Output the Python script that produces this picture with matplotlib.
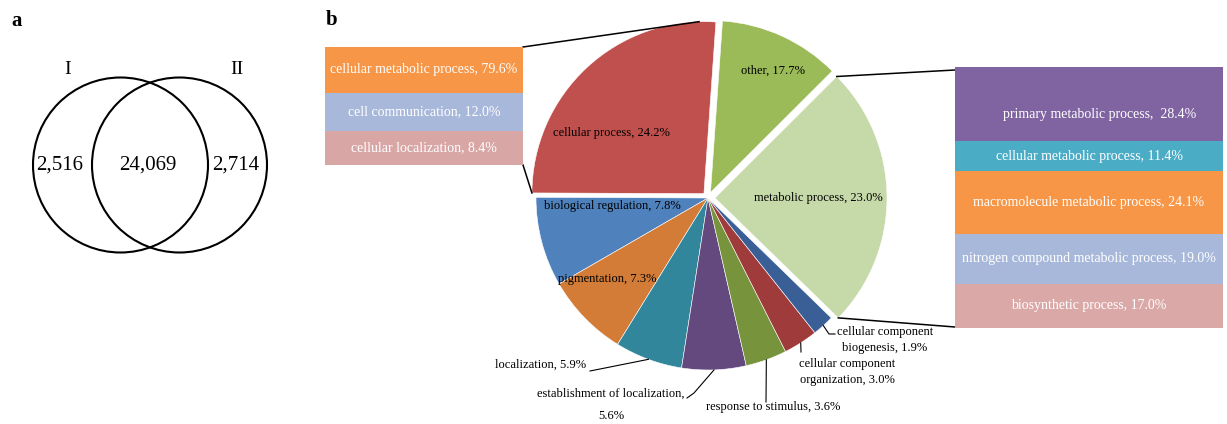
import numpy as np
import matplotlib
matplotlib.use('Agg')
import matplotlib.pyplot as plt
from matplotlib.patches import Circle

W, H = 1227, 424
plt.rcParams['font.family'] = ['Liberation Serif', 'DejaVu Serif']

# ---- data ----
venn_sets = ['I', 'II']
venn_counts = [2516, 24069, 2714]   # only I, both, only II

pie_labels = ['cellular process', 'biological regulation', 'pigmentation', 'localization',
              'establishment of localization', 'response to stimulus',
              'cellular component organization', 'cellular component biogenesis',
              'metabolic process', 'other']
pie_pct = [24.2, 7.8, 7.3, 5.9, 5.6, 3.6, 3.0, 1.9, 23.0, 17.7]
# slice sizes as drawn (the "other" slice is narrower in the figure than its label)
pie_sizes = [24.2, 7.8, 7.3, 5.9, 5.6, 3.6, 3.0, 1.9, 23.0, 10.6]
pie_colors = ['#C0504D', '#4F81BD', '#D27C38', '#31869B', '#64497F',
              '#77933C', '#A03B3B', '#3A5F96', '#C6D9A8', '#9BBB59']

cell_labels = ['cellular metabolic process', 'cell communication', 'cellular localization']
cell_pct = [79.6, 12.0, 8.4]
cell_colors = ['#F79646', '#A8B8DA', '#D9A6A6']

metab_labels = ['primary metabolic process', 'cellular metabolic process',
                'macromolecule metabolic process', 'nitrogen compound metabolic process',
                'biosynthetic process']
metab_pct = [28.4, 11.4, 24.1, 19.0, 17.0]
metab_colors = ['#8064A2', '#4BACC6', '#F79646', '#A8B8DA', '#DBA8A8']


def P(x, y):
    # image pixel (y down) -> main axes coords
    return x, H - y


fig = plt.figure(figsize=(W / 100, H / 100), dpi=100)
ax = fig.add_axes([0, 0, 1, 1])

# ---- panel a: venn ----
for cx in (120.5, 179.5):
    ax.add_patch(Circle(P(cx, 165), 87.5, fill=False, ec='black', lw=1.5))
ax.text(*P(68, 70), venn_sets[0], fontsize=14, ha='center', va='center')
ax.text(*P(237, 70), venn_sets[1], fontsize=14, ha='center', va='center')
for xpos, n in zip((60, 148, 236), venn_counts):
    ax.text(*P(xpos, 165), f'{n:,}', fontsize=15, ha='center', va='center')

ax.text(*P(17, 21), 'a', fontsize=15, fontweight='bold', ha='center', va='center')
ax.text(*P(332, 20), 'b', fontsize=15, fontweight='bold', ha='center', va='center')

# ---- panel b: pie ----
R = 172
explode = [6, 0, 0, 0, 0, 0, 0, 0, 7, 6]
wedges, _ = ax.pie(pie_sizes, colors=pie_colors, startangle=86, counterclock=True,
                   explode=explode, radius=R, center=P(708, 198),
                   wedgeprops=dict(edgecolor='white', linewidth=0.4))

txt = [f'{l}, {p:.1f}%' for l, p in zip(pie_labels, pie_pct)]
fs = 9
inside = {0: (611, 133), 1: (612, 206), 2: (607, 279), 8: (818, 198), 9: (773, 71)}
for i, (x, y) in inside.items():
    ax.text(*P(x, y), txt[i], fontsize=fs, ha='center', va='center')


def rim(i, frac=0.5, r=None):
    w = wedges[i]
    t = np.deg2rad(w.theta1 + frac * (w.theta2 - w.theta1))
    r = w.r if r is None else r
    return w.center[0] + r * np.cos(t), w.center[1] + r * np.sin(t)


def leader(pts, end):
    xs = [P(*p)[0] for p in pts] + [end[0]]
    ys = [P(*p)[1] for p in pts] + [end[1]]
    ax.plot(xs, ys, color='black', lw=0.8)


ax.text(*P(495, 365), txt[3], fontsize=fs, ha='left', va='center')
leader([(590, 371)], rim(3))
ax.text(*P(611, 405), f'{pie_labels[4]},\n{pie_pct[4]:.1f}%', fontsize=fs,
        ha='center', va='center', linespacing=2.1)
leader([(687, 398), (694, 393)], rim(4))
ax.text(*P(706, 407), txt[5], fontsize=fs, ha='left', va='center')
leader([(766, 402)], rim(5))
ax.text(*P(847, 372), f'cellular component\norganization, {pie_pct[6]:.1f}%',
        fontsize=fs, ha='center', va='center', linespacing=1.35)
leader([(801, 352)], rim(6))
ax.text(*P(885, 340), f'cellular component\nbiogenesis, {pie_pct[7]:.1f}%',
        fontsize=fs, ha='center', va='center', linespacing=1.4)
leader([(835, 334), (829, 334)], rim(7))

# connectors to the boxes
L = (325, 47, 523, 165)     # left box x0, y0, x1, y1 (pixels)
Rb = (955, 67, 1223, 328)   # right box
for pt, end in (((L[2], L[1]), rim(0, 0.06)), ((L[2], L[3]), rim(0, 1.0))):
    ax.plot([P(*pt)[0], end[0]], [P(*pt)[1], end[1]], color='black', lw=1.1)
for pt, end in (((Rb[0], Rb[1] + 3), rim(8, 1.0)), ((Rb[0], Rb[3] - 1), rim(8, 0.0))):
    ax.plot([P(*pt)[0], end[0]], [P(*pt)[1], end[1]], color='black', lw=1.1)

ax.set_xlim(0, W)
ax.set_ylim(0, H)
ax.set_aspect('auto')
ax.axis('off')


def box(rect, values, labels, colors, fontsize, text_pos=None):
    x0, y0, x1, y1 = rect
    bx = fig.add_axes([x0 / W, 1 - y1 / H, (x1 - x0) / W, (y1 - y0) / H])
    text_pos = text_pos or [(0, 0.5)] * len(values)
    bottom = 0
    for v, l, c, (dx, fy) in zip(values, labels, colors, text_pos):
        bx.bar(0, v, bottom=bottom, width=1, color=c, edgecolor='none')
        bx.text(dx, bottom + v * fy, l, color='white', fontsize=fontsize,
                ha='center', va='center')
        bottom += v
    bx.set_xlim(-0.5, 0.5)
    bx.set_ylim(bottom, 0)
    bx.axis('off')


# left box rows are drawn with similar heights, not to scale
cell_rows = [46, 38, 34]
box(L, cell_rows, [f'{l}, {p:.1f}%' for l, p in zip(cell_labels, cell_pct)],
    cell_colors, 10)
metab_txt = [f'{l}, {p:.1f}%' for l, p in zip(metab_labels, metab_pct)]
metab_txt[0] = metab_txt[0].replace(', ', ',  ')
box(Rb, metab_pct, metab_txt, metab_colors, 10,
    text_pos=[(0.04, 0.64), (0, 0.5), (0, 0.5), (0, 0.5), (0, 0.5)])

fig.savefig('out.png', dpi=100)
